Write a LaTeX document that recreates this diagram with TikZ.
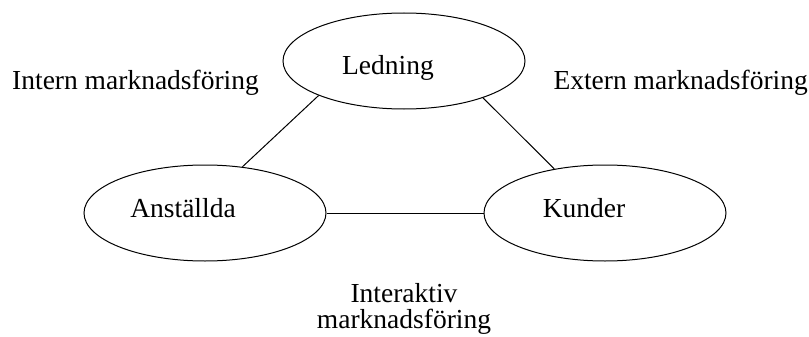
\documentclass[tikz,border=0pt]{standalone}
\usepackage{fontspec}
\setmainfont{Liberation Serif}
\usetikzlibrary{shapes.geometric}
\begin{document}
\begin{tikzpicture}[x=1pt,y=-1pt,
  oval/.style={draw=black, line width=1pt, ellipse, minimum width=242pt, minimum height=96pt, inner sep=0pt},
  lbl/.style={anchor=base, inner sep=0pt, font=\fontsize{27.5}{30}\selectfont},
  conn/.style={draw=black, line width=1pt}]
\useasboundingbox[fill=white] (0,0) rectangle (809,337);
\node[oval] (L) at (404,61) {};
\node[oval] (A) at (205,213) {};
\node[oval] (K) at (605,213) {};
\node[lbl] (tL) at (388,75) {Ledning};
\node[lbl] (tA) at (183,217) {Anställda};
\node[lbl] (tK) at (584,217) {Kunder};
\node[lbl, anchor=base west] (ti) at (12,89) {Intern marknadsföring};
\node[lbl, anchor=base east] (te) at (808,89) {Extern marknadsföring};
\node[lbl] (ia1) at (404,302) {Interaktiv};
\node[lbl] (ia2) at (404,328) {marknadsföring};
\draw[conn] (L.202) -- (A.51);
\draw[conn] (L.-25) -- (K.139);
\draw[conn] (A.east) -- (K.west);
\end{tikzpicture}
\end{document}
